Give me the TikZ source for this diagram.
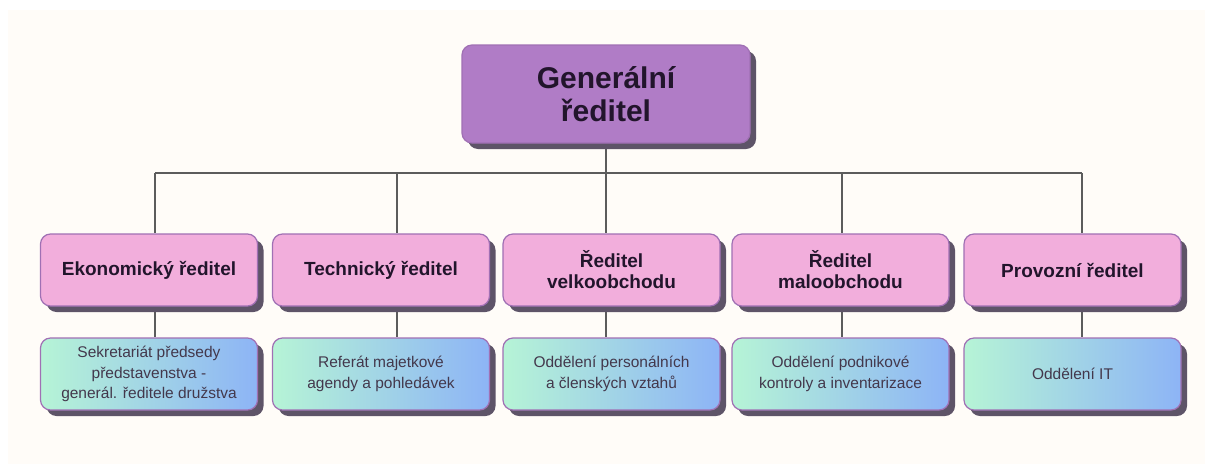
\documentclass[tikz,border=0pt]{standalone}
\usepackage{fontspec}
\setmainfont{Liberation Sans}
\usetikzlibrary{shadows,backgrounds}

\definecolor{bgcream}{HTML}{FFFCF8}
\definecolor{topfill}{HTML}{B07CC6}
\definecolor{pinkfill}{HTML}{F2AEDC}
\definecolor{boxline}{HTML}{A070B4}
\definecolor{shadowc}{HTML}{5E5468}
\definecolor{mint}{HTML}{B6F4D6}
\definecolor{skyb}{HTML}{8DB4F6}
\definecolor{linec}{HTML}{5C5C5C}
\definecolor{txtc}{HTML}{22152C}

\tikzset{
  box/.style={draw=boxline, line width=1.2pt, rounded corners=10pt, align=center,
    drop shadow={shadow xshift=6pt, shadow yshift=-6pt, fill=shadowc, opacity=1}},
  chief/.style={box, fill=topfill, minimum width=288pt, minimum height=98pt,
    font=\fontsize{30}{33}\selectfont\bfseries, text=txtc},
  head/.style={box, fill=pinkfill, minimum width=217pt, minimum height=72pt,
    font=\fontsize{19}{21}\selectfont\bfseries, text=txtc},
  dept/.style={box, left color=mint, right color=skyb, minimum width=217pt, minimum height=72pt,
    font=\fontsize{15.5}{20.5}\selectfont, text=txtc!85},
  link/.style={draw=linec, line width=1.2pt}
}

\begin{document}
\begin{tikzpicture}[x=1pt, y=-1pt]
	    \useasboundingbox (0,0) rectangle (1205,464);

	    % top
	    \node[chief] (gen) at (606,94) {Generální\\ředitel};

	    % directors
	    \node[head] (ekon) at (149,270) {Ekonomický ředitel};
	    \node[head] (tech) at (381,270) {Technický ředitel};
	    \node[head] (velk) at (611.5,270) {Ředitel\\velkoobchodu};
	    \node[head] (malo) at (840.5,270) {Ředitel\\maloobchodu};
	    \node[head] (prov) at (1072.5,270) {Provozní ředitel};

	    % departments
	    \node[dept] (sekr) at (149,374) {Sekretariát předsedy\\představenstva -\\generál. ředitele družstva};
	    \node[dept] (refer) at (381,374) {Referát majetkové\\agendy a pohledávek};
	    \node[dept] (pers) at (611.5,374) {Oddělení personálních\\a členských vztahů};
	    \node[dept] (kontr) at (840.5,374) {Oddělení podnikové\\kontroly a inventarizace};
	    \node[dept] (it) at (1072.5,374) {Oddělení IT};

	    \coordinate (j1) at (155,173);
	    \coordinate (j2) at (397,173);
	    \coordinate (j3) at (606,173);
	    \coordinate (j4) at (842,173);
	    \coordinate (j5) at (1082,173);

	    \begin{scope}[on background layer]
	    \fill[bgcream] (8,10) rectangle (1205,464);
	    \draw[link] (gen.south) -- (j3);
	    \draw[link] (j1) -- (j5);
	    \draw[link] (j1) -- (j1 |- ekon.north);
	    \draw[link] (j2) -- (j2 |- tech.north);
	    \draw[link] (j3) -- (j3 |- velk.north);
	    \draw[link] (j4) -- (j4 |- malo.north);
	    \draw[link] (j5) -- (j5 |- prov.north);
	    \draw[link] (j1 |- ekon.south) -- (j1 |- sekr.north);
	    \draw[link] (j2 |- tech.south) -- (j2 |- refer.north);
	    \draw[link] (j3 |- velk.south) -- (j3 |- pers.north);
	    \draw[link] (j4 |- malo.south) -- (j4 |- kontr.north);
	    \draw[link] (j5 |- prov.south) -- (j5 |- it.north);
	    \end{scope}
\end{tikzpicture}
\end{document}
